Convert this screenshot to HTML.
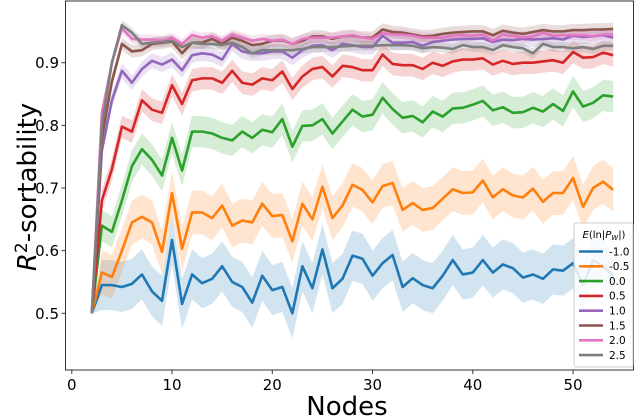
<!DOCTYPE html>
<html><head><meta charset="utf-8"><style>
body{margin:0;background:#fff;}
svg{display:block;font-family:"DejaVu Sans","Liberation Sans",sans-serif;}
</style></head><body>
<svg id="chart" width="640" height="417" viewBox="0 0 640 417">
<g id="bands"></g>
<g id="lines"></g>
<rect x="65.5" y="1" width="568" height="369" fill="none" stroke="#333" stroke-width="1"/>
<g id="xticks"></g>
<g id="yticks"></g>
<text x="347" y="415" font-size="26" text-anchor="middle">Nodes</text>
<text transform="translate(36,187) rotate(-90)" font-size="26" text-anchor="middle"><tspan font-style="italic">R</tspan><tspan dy="-9" font-size="17">2</tspan><tspan dy="9">-sortability</tspan></text>
<g id="legend">
<rect x="574" y="223" width="59" height="144" rx="2" fill="#fff" fill-opacity="0.85" stroke="#ccc"/>
<text x="604" y="238" font-size="10" text-anchor="middle"><tspan font-style="italic">E</tspan>(ln|<tspan font-style="italic">P</tspan><tspan font-size="7" dy="2" font-style="italic">W</tspan><tspan dy="-2">|)</tspan></text>
</g>
</svg>
<script>
const nodes = [];
for (let n = 2; n <= 54; n++) nodes.push(n);
const labels = ["-1.0","-0.5","0.0","0.5","1.0","1.5","2.0","2.5"];
const colors = ["#1f77b4","#ff7f0e","#2ca02c","#d62728","#9467bd","#8c564b","#e377c2","#7f7f7f"];
const ciHalf = [0.04,0.035,0.025,0.018,0.012,0.01,0.008,0.008];
const sBlue = [0.50,0.545,0.545,0.542,0.547,0.562,0.535,0.52,0.617,0.515,0.562,0.548,0.555,0.575,0.55,0.542,0.517,0.56,0.537,0.542,0.50,0.575,0.54,0.602,0.54,0.555,0.592,0.587,0.56,0.58,0.593,0.542,0.556,0.545,0.54,0.56,0.585,0.562,0.565,0.585,0.565,0.578,0.572,0.557,0.562,0.555,0.57,0.568,0.58,0.545,0.585,0.575,0.56];
const sOrange = [0.5,0.565,0.558,0.6,0.645,0.654,0.645,0.598,0.692,0.603,0.661,0.661,0.652,0.672,0.64,0.648,0.645,0.675,0.655,0.657,0.615,0.675,0.65,0.702,0.652,0.672,0.705,0.697,0.677,0.703,0.708,0.665,0.676,0.665,0.668,0.683,0.698,0.692,0.693,0.712,0.685,0.698,0.688,0.685,0.699,0.678,0.692,0.692,0.716,0.67,0.7,0.71,0.697];
const sGreen = [0.5,0.64,0.63,0.68,0.735,0.762,0.745,0.72,0.78,0.728,0.79,0.79,0.787,0.78,0.776,0.79,0.78,0.793,0.789,0.81,0.766,0.799,0.8,0.81,0.787,0.806,0.825,0.814,0.817,0.844,0.826,0.812,0.815,0.805,0.822,0.814,0.827,0.828,0.833,0.839,0.824,0.829,0.82,0.821,0.828,0.822,0.834,0.823,0.854,0.83,0.836,0.848,0.846];
const sRed = [0.5,0.68,0.73,0.798,0.79,0.84,0.825,0.82,0.864,0.834,0.872,0.875,0.875,0.868,0.887,0.868,0.865,0.875,0.872,0.886,0.858,0.878,0.89,0.893,0.878,0.895,0.893,0.888,0.888,0.913,0.898,0.896,0.896,0.89,0.9,0.895,0.902,0.905,0.905,0.907,0.897,0.903,0.898,0.9,0.9,0.902,0.904,0.9,0.917,0.908,0.909,0.916,0.912];
const sPurple = [0.5,0.76,0.84,0.887,0.868,0.89,0.903,0.897,0.905,0.888,0.912,0.915,0.913,0.905,0.93,0.918,0.915,0.915,0.918,0.918,0.908,0.92,0.927,0.928,0.92,0.93,0.928,0.925,0.925,0.943,0.932,0.932,0.933,0.927,0.933,0.935,0.937,0.938,0.938,0.939,0.933,0.937,0.936,0.938,0.937,0.938,0.939,0.937,0.943,0.941,0.942,0.944,0.94];
const sBrown = [0.5,0.78,0.87,0.93,0.918,0.92,0.93,0.932,0.934,0.915,0.932,0.932,0.938,0.93,0.94,0.935,0.928,0.93,0.935,0.936,0.93,0.935,0.942,0.942,0.938,0.942,0.943,0.94,0.94,0.953,0.949,0.948,0.945,0.942,0.943,0.946,0.948,0.949,0.95,0.95,0.944,0.951,0.948,0.946,0.949,0.952,0.95,0.95,0.952,0.952,0.953,0.953,0.954];
const sPink = [0.5,0.82,0.9,0.955,0.938,0.937,0.937,0.935,0.94,0.93,0.944,0.94,0.942,0.935,0.945,0.94,0.935,0.938,0.935,0.937,0.93,0.938,0.94,0.94,0.94,0.942,0.944,0.94,0.938,0.947,0.945,0.945,0.943,0.94,0.94,0.94,0.943,0.944,0.943,0.945,0.935,0.945,0.943,0.94,0.942,0.948,0.943,0.944,0.944,0.944,0.942,0.945,0.945];
const sGray = [0.5,0.8,0.9,0.96,0.948,0.93,0.932,0.933,0.935,0.925,0.932,0.93,0.93,0.928,0.932,0.925,0.915,0.92,0.92,0.92,0.92,0.922,0.925,0.925,0.925,0.926,0.927,0.927,0.927,0.928,0.928,0.928,0.927,0.923,0.925,0.924,0.922,0.928,0.925,0.925,0.92,0.928,0.925,0.923,0.915,0.93,0.925,0.925,0.923,0.925,0.922,0.927,0.927];
const series = [sBlue,sOrange,sGreen,sRed,sPurple,sBrown,sPink,sGray];
const xTicks = [0,10,20,30,40,50];
const yTicks = [0.5,0.6,0.7,0.8,0.9];
const names = ["blue","orange","green","red","purple","brown","pink","gray"];

const X = v => 71.8 + v * 10.025;
const Y = v => 313.3 - (v - 0.5) * 626.5;
const NS = "http://www.w3.org/2000/svg";
const mk = (t, a, p) => { const e = document.createElementNS(NS, t); for (const k in a) e.setAttribute(k, a[k]); p.appendChild(e); return e; };

const bands = document.getElementById('bands'), lines = document.getElementById('lines');
series.forEach((s, i) => {
  const up = s.map((v, j) => X(nodes[j]) + ',' + Y(v + (j === 0 ? 0 : ciHalf[i]))).join(' ');
  const lo = s.map((v, j) => X(nodes[j]) + ',' + Y(v - (j === 0 ? 0 : ciHalf[i]))).reverse().join(' ');
  const b = mk('polygon', {points: up + ' ' + lo, fill: colors[i], 'fill-opacity': 0.2}, bands);
  
  
  const l = mk('polyline', {points: s.map((v, j) => X(nodes[j]) + ',' + Y(v)).join(' '), fill: 'none', stroke: colors[i], 'stroke-width': 2.6, 'stroke-linejoin': 'round'}, lines);
  
  
});

const xg = document.getElementById('xticks');
xTicks.forEach(t => {
  const tk = mk('line', {x1: X(t), x2: X(t), y1: 370, y2: 374, stroke: '#333'}, xg);
  
  
  const tx = mk('text', {x: X(t), y: 390, 'font-size': 15, 'text-anchor': 'middle'}, xg);
  tx.textContent = t;
  
  
});
const yg = document.getElementById('yticks');
yTicks.forEach(t => {
  const tk = mk('line', {x1: 61.5, x2: 65.5, y1: Y(t), y2: Y(t), stroke: '#333'}, yg);
  
  
  const tx = mk('text', {x: 59, y: Y(t) + 5.5, 'font-size': 15, 'text-anchor': 'end'}, yg);
  tx.textContent = t.toFixed(1);
  
  
});
const lg = document.getElementById('legend');
labels.forEach((lab, i) => {
  const y = 251.5 + i * 14.8;
  const ln = mk('line', {x1: 579, x2: 603, y1: y, y2: y, stroke: colors[i], 'stroke-width': 2.6}, lg);
  
  
  const tx = mk('text', {x: 609, y: y + 3.8, 'font-size': 10.5}, lg);
  tx.textContent = lab;
  
  
});
</script>
</body></html>
